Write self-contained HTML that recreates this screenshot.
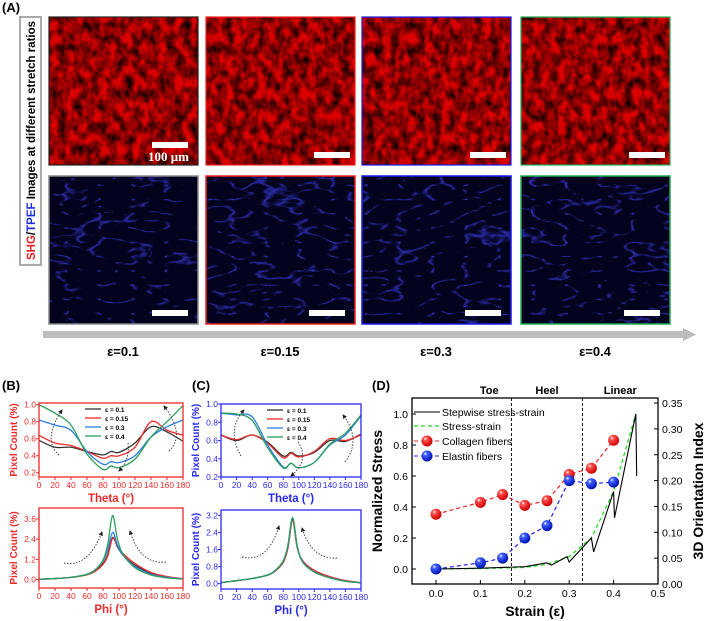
<!DOCTYPE html>
<html><head><meta charset="utf-8"><style>
html,body{margin:0;padding:0;background:#fff;width:706px;height:621px;overflow:hidden;font-family:"Liberation Sans",Arial,sans-serif}
svg{position:absolute;left:0;top:0}
</style></head><body>
<svg id="fig" width="706" height="621" viewBox="0 0 706 621" xmlns="http://www.w3.org/2000/svg">
<defs>
<filter id="redtex" x="0" y="0" width="100%" height="100%">
<feTurbulence type="fractalNoise" baseFrequency="0.12 0.09" numOctaves="3" seed="3"/>
<feColorMatrix type="matrix" values="0 0 0 0 0  0 0 0 0 0  0 0 0 0 0  -1.7 0 0 0 1.2"/>
</filter>
<filter id="bluetex" x="0" y="0" width="100%" height="100%">
<feTurbulence type="turbulence" baseFrequency="0.03 0.07" numOctaves="2" seed="7"/>
<feColorMatrix type="matrix" values="0 0 0 0 0.05  0 0 0 0 0.05  0 0 0 0 0.85  -6 0 0 0 0.7"/>
</filter>
<marker id="ah" viewBox="0 0 10 10" refX="8" refY="5" markerWidth="5" markerHeight="5" orient="auto"><path d="M0,0L10,5L0,10z" fill="#222"/></marker>
<radialGradient id="gr" cx="0.35" cy="0.3" r="0.7"><stop offset="0" stop-color="#fff"/><stop offset="0.25" stop-color="#ff5050"/><stop offset="1" stop-color="#c00"/></radialGradient>
<radialGradient id="gb" cx="0.35" cy="0.3" r="0.7"><stop offset="0" stop-color="#fff"/><stop offset="0.25" stop-color="#4060ff"/><stop offset="1" stop-color="#0010b0"/></radialGradient>
</defs>
<g id="panelA"></g>
<g id="panelB"></g>
<g id="panelC"></g>
<g id="panelD"></g>
</svg>
<script>
// ---------- data ----------
const stretchLabels = ["ε=0.1","ε=0.15","ε=0.3","ε=0.4"];
const seriesNames = ["ε = 0.1","ε = 0.15","ε = 0.3","ε = 0.4"];
const thetaX = [0,20,40,60,80,90,100,120,140,160,180];
const bTheta01 = [0.58,0.50,0.50,0.45,0.41,0.45,0.44,0.55,0.74,0.68,0.57];
const bTheta015 = [0.64,0.55,0.52,0.45,0.37,0.40,0.40,0.50,0.80,0.70,0.64];
const bTheta03 = [0.82,0.76,0.70,0.45,0.30,0.33,0.32,0.40,0.62,0.74,0.82];
const bTheta04 = [1.0,0.90,0.76,0.42,0.24,0.28,0.26,0.36,0.62,0.80,0.99];
const cTheta01 = [0.66,0.60,0.66,0.58,0.43,0.47,0.43,0.47,0.60,0.59,0.67];
const cTheta015 = [0.66,0.61,0.66,0.57,0.41,0.46,0.42,0.48,0.62,0.60,0.66];
const cTheta03 = [0.90,0.88,0.86,0.55,0.31,0.35,0.30,0.36,0.55,0.66,0.87];
const cTheta04 = [0.90,0.89,0.82,0.52,0.30,0.35,0.30,0.36,0.56,0.68,0.88];
const phiX = [0,20,40,60,70,80,86,92,98,105,120,140,160,180];
const bPhi01 = [0.02,0.06,0.13,0.30,0.52,0.95,1.5,2.5,1.95,1.45,0.85,0.38,0.16,0.05];
const bPhi015 = [0.02,0.06,0.13,0.28,0.48,0.90,1.4,2.45,2.0,1.55,0.95,0.42,0.18,0.05];
const bPhi03 = [0.02,0.06,0.14,0.32,0.58,1.10,1.8,2.8,2.05,1.45,0.78,0.32,0.13,0.04];
const bPhi04 = [0.02,0.06,0.13,0.30,0.56,1.15,2.1,3.8,2.4,1.5,0.70,0.27,0.10,0.03];
const cPhi01 = [0.05,0.14,0.24,0.40,0.60,1.0,1.7,3.0,1.7,1.05,0.58,0.30,0.13,0.04];
const cPhi015 = [0.05,0.14,0.24,0.40,0.60,1.0,1.65,2.95,1.7,1.08,0.62,0.33,0.15,0.05];
const cPhi03 = [0.05,0.14,0.24,0.40,0.62,1.05,1.75,3.05,1.75,1.02,0.55,0.28,0.12,0.04];
const cPhi04 = [0.05,0.14,0.24,0.41,0.63,1.07,1.8,3.1,1.78,1.0,0.54,0.27,0.11,0.04];
const strainX = [0,0.1,0.15,0.2,0.25,0.3,0.35,0.4];
const collagenIdx = [0.135,0.158,0.173,0.152,0.161,0.212,0.224,0.278];
const elastinIdx = [0.029,0.041,0.050,0.089,0.113,0.200,0.194,0.197];
const stepX = [0,0.1,0.2,0.25,0.26,0.295,0.3,0.35,0.355,0.4,0.402,0.45,0.452];
const stepY = [0,0.005,0.015,0.04,0.025,0.08,0.045,0.2,0.11,0.5,0.33,1.0,0.6];
const ssX = [0,0.1,0.2,0.25,0.3,0.35,0.4,0.45];
const ssY = [0,0.003,0.01,0.03,0.08,0.2,0.5,1.0];
const regionLabels = ["Toe","Heel","Linear"];
const regionBounds = [0.17,0.33];

const NS="http://www.w3.org/2000/svg";
function mk(parent,tag,attrs,text){const e=document.createElementNS(NS,tag);for(const k in attrs)e.setAttribute(k,attrs[k]);if(text!==undefined)e.textContent=text;parent.appendChild(e);return e;}
function smooth(pts){if(pts.length<2)return"";let d="M"+pts[0][0]+","+pts[0][1];for(let i=0;i<pts.length-1;i++){const p0=pts[i-1]||pts[i],p1=pts[i],p2=pts[i+1],p3=pts[i+2]||p2;const c1=[p1[0]+(p2[0]-p0[0])/6,p1[1]+(p2[1]-p0[1])/6],c2=[p2[0]-(p3[0]-p1[0])/6,p2[1]-(p3[1]-p1[1])/6];d+="C"+c1[0]+","+c1[1]+" "+c2[0]+","+c2[1]+" "+p2[0]+","+p2[1];}return d;}
const colors=["#333333","#ee2a2a","#2f7fe0","#2aa05a"];

// ---------- Panel A ----------
const A=document.getElementById("panelA");
let t=mk(A,"text",{x:2,y:12,"font-size":13,"font-weight":"bold"},"(A)");


let r=mk(A,"rect",{x:20,y:17,width:21,height:248,fill:"#fff",stroke:"#aaa","stroke-width":2});


let vt=mk(A,"text",{transform:"translate(35,260) rotate(-90)","font-size":11.5,"font-weight":"bold"});


mk(vt,"tspan",{fill:"#e02020"},"SHG");mk(vt,"tspan",{fill:"#000"},"/");mk(vt,"tspan",{fill:"#2030e0"},"TPEF");mk(vt,"tspan",{fill:"#000"}," Images at different stretch ratios");
const imgX=[49,206,362,521], borders=["#222","#ee2020","#1a1aee","#22aa55"];
for(let i=0;i<4;i++){
  const g=mk(A,"g",{});
  
  
  mk(g,"rect",{x:imgX[i],y:17,width:149,height:148,fill:"#dd0000"});
  mk(g,"rect",{x:imgX[i],y:17,width:149,height:148,filter:"url(#redtex)"});
  mk(g,"rect",{x:imgX[i],y:17,width:149,height:148,fill:"none",stroke:borders[i],"stroke-width":1.2});
  mk(g,"rect",{x:imgX[i]+(i==0?103:108),y:(i==0?142:152),width:36,height:6,fill:"#fff"});
  if(i==0)mk(g,"text",{x:imgX[i]+99,y:161,"font-size":13,"font-weight":"bold",fill:"#fff","font-family":"Liberation Serif,serif"},"100 μm");
  const h=mk(A,"g",{});
  
  
  mk(h,"rect",{x:imgX[i],y:176,width:149,height:148,fill:"#03031e"});
  mk(h,"rect",{x:imgX[i],y:176,width:149,height:148,filter:"url(#bluetex)"});
  mk(h,"rect",{x:imgX[i],y:176,width:149,height:148,fill:"none",stroke:i==0?"#888":borders[i],"stroke-width":1.5});
  mk(h,"rect",{x:imgX[i]+103,y:310,width:36,height:6,fill:"#fff"});
  let l=mk(A,"text",{x:imgX[i]+74,y:356,"font-size":13,"font-weight":"bold","text-anchor":"middle"},stretchLabels[i]);
  
  
}
let ar=mk(A,"path",{d:"M43,331H683V328L696,334.5L683,341V338H43Z",fill:"#bdbdbd"});



// ---------- small plot helper ----------
function smallPlot(P,box,xd,yd,yticks,ytickFmt,axisColor,xs,ys,title,ylabel,arrows,legend){
  const sx=v=>box.x+(v-xd[0])/(xd[1]-xd[0])*box.w, sy=v=>box.y+box.h-(v-yd[0])/(yd[1]-yd[0])*box.h;
  const g=mk(P,"g",{});
  
  
  for(let k=0;k<ys.length;k++){
    const pts=xs.map((x,j)=>[sx(x),sy(ys[k][j])]);
    const p=mk(g,"path",{d:smooth(pts),fill:"none",stroke:colors[k],"stroke-width":1.3});
    
    
  }
  mk(g,"rect",{x:box.x,y:box.y,width:box.w,height:box.h,fill:"none",stroke:axisColor,"stroke-width":1.3});
  for(let v=0;v<=180;v+=20){mk(g,"line",{x1:sx(v),x2:sx(v),y1:box.y+box.h,y2:box.y+box.h+3,stroke:axisColor});
    mk(g,"text",{x:sx(v),y:box.y+box.h+11,"font-size":8.5,fill:axisColor,"text-anchor":"middle"},v);}
  yticks.forEach(v=>{mk(g,"line",{x1:box.x-3,x2:box.x,y1:sy(v),y2:sy(v),stroke:axisColor});
    mk(g,"text",{x:box.x-3,y:sy(v)+3,"font-size":8.5,fill:axisColor,"text-anchor":"end"},ytickFmt(v));});
  let xt=mk(g,"text",{x:box.x+box.w/2,y:box.y+box.h+25,"font-size":11.5,"font-weight":"bold",fill:axisColor,"text-anchor":"middle"},title+" (°)");
  
  
  let yt=mk(g,"text",{transform:"translate("+(box.x-22)+","+(box.y+box.h/2)+") rotate(-90)","font-size":10,"font-weight":"bold",fill:axisColor,"text-anchor":"middle"},ylabel);
  
  
  arrows.forEach(a=>mk(g,"path",{d:a,fill:"none",stroke:"#333","stroke-width":0.9,"stroke-dasharray":"1.5,1.5","marker-end":"url(#ah)"}));
  if(legend){const lg=mk(g,"g",{});
    
    
    seriesNames.forEach((n,k)=>{const y=box.y+6+k*9;mk(lg,"line",{x1:box.x+46,x2:box.x+62,y1:y,y2:y,stroke:colors[k],"stroke-width":1.3});
      mk(lg,"text",{x:box.x+66,y:y+3,"font-size":6.5,"font-weight":"bold"},n);});}
}
const B=document.getElementById("panelB");
let bl=mk(B,"text",{x:2,y:390,"font-size":13,"font-weight":"bold"},"(B)");

smallPlot(B,{x:39,y:403,w:144,h:74},[0,180],[0.15,1.02],[0.2,0.4,0.6,0.8,1.0],v=>v.toFixed(1),"#ee2a2a",thetaX,[bTheta01,bTheta015,bTheta03,bTheta04],"Theta","Pixel Count (%)",
 ["M59,455Q42,440 62,410","M169,451Q186,435 164,406","M128,443Q130,460 119,471"],true);
smallPlot(B,{x:39,y:508,w:144,h:80},[0,180],[-0.5,4.25],[0,1.2,2.4,3.6],v=>v.toFixed(1),"#ee2a2a",phiX,[bPhi01,bPhi015,bPhi03,bPhi04],"Phi","Pixel Count (%)",
 ["M64,563Q88,568 102,532","M166,562Q140,565 130,531"],false);
const C=document.getElementById("panelC");
let cl=mk(C,"text",{x:192,y:390,"font-size":13,"font-weight":"bold"},"(C)");

smallPlot(C,{x:221,y:404,w:140,h:73},[0,180],[0.2,1.0],[0.2,0.4,0.6,0.8,1.0],v=>v.toFixed(1),"#2a2aee",thetaX,[cTheta01,cTheta015,cTheta03,cTheta04],"Theta","Pixel Count (%)",
 ["M241,456Q226,430 244,410","M345,462Q362,440 343,415","M298,442Q310,460 291,476"],true);
smallPlot(C,{x:221,y:510,w:140,h:79},[0,180],[-0.25,3.45],[0,0.8,1.6,2.4,3.2],v=>v.toFixed(1),"#2a2aee",phiX,[cPhi01,cPhi015,cPhi03,cPhi04],"Phi","Pixel Count (%)",
 ["M242,557Q268,563 279,526","M337,558Q312,560 302,528"],false);

// ---------- Panel D ----------
const D=document.getElementById("panelD");
let dl=mk(D,"text",{x:372,y:390,"font-size":13,"font-weight":"bold"},"(D)");

const dbox={x:412,y:398,w:246,h:186};
const dx=v=>436+v*444, dyL=v=>569-v*155, dyR=v=>584-v*517;
mk(D,"rect",{x:dbox.x,y:dbox.y,width:dbox.w,height:dbox.h,fill:"none",stroke:"#000","stroke-width":1.3});
regionBounds.forEach(b=>{let l=mk(D,"line",{x1:dx(b),x2:dx(b),y1:dbox.y,y2:dbox.y+dbox.h,stroke:"#000","stroke-dasharray":"3,2","stroke-width":0.9});
 });
const rc=[0.12,(0.17+0.33)/2,(0.33+0.5)/2];
regionLabels.forEach((n,i)=>{let tt=mk(D,"text",{x:dx(rc[i]),y:394,"font-size":11,"font-weight":"bold","text-anchor":"middle"},n);
 });
[0,0.1,0.2,0.3,0.4,0.5].forEach(v=>{mk(D,"line",{x1:dx(v),x2:dx(v),y1:584,y2:580,stroke:"#000"});mk(D,"text",{x:dx(v),y:597,"font-size":10.5,"text-anchor":"middle"},v.toFixed(1));});
[0,0.2,0.4,0.6,0.8,1.0].forEach(v=>{mk(D,"line",{x1:dbox.x,x2:dbox.x+4,y1:dyL(v),y2:dyL(v),stroke:"#000"});mk(D,"text",{x:dbox.x-4,y:dyL(v)+4,"font-size":10.5,"text-anchor":"end"},v.toFixed(1));});
[0,0.05,0.1,0.15,0.2,0.25,0.3,0.35].forEach(v=>{mk(D,"line",{x1:658,x2:654,y1:dyR(v),y2:dyR(v),stroke:"#000"});mk(D,"text",{x:662,y:dyR(v)+4,"font-size":10.5},v.toFixed(2));});
let dxt=mk(D,"text",{x:535,y:616,"font-size":14,"font-weight":"bold","text-anchor":"middle"},"Strain (ε)");

let dyt=mk(D,"text",{transform:"translate(382,491) rotate(-90)","font-size":14,"font-weight":"bold","text-anchor":"middle"},"Normalized Stress");

let dyr=mk(D,"text",{transform:"translate(703,491) rotate(-90)","font-size":14,"font-weight":"bold","text-anchor":"middle"},"3D Orientation Index");

let ss=mk(D,"polyline",{points:ssX.map((x,i)=>dx(x)+","+dyL(ssY[i])).join(" "),fill:"none",stroke:"#22dd22","stroke-width":1.3,"stroke-dasharray":"4,3"});

let sw=mk(D,"polyline",{points:stepX.map((x,i)=>dx(x)+","+dyL(stepY[i])).join(" "),fill:"none",stroke:"#000","stroke-width":1.1});

function dots(vals,col,grad,name){
  let pl=mk(D,"polyline",{points:strainX.map((x,i)=>dx(x)+","+dyR(vals[i])).join(" "),fill:"none",stroke:col,"stroke-width":1.2,"stroke-dasharray":"4,3"});
  
  strainX.forEach((x,i)=>{let c=mk(D,"circle",{cx:dx(x),cy:dyR(vals[i]),r:5.5,fill:"url(#"+grad+")"});
    });
}
dots(collagenIdx,"#ee2222","gr","collagen");
dots(elastinIdx,"#2222ee","gb","elastin");
const lg=mk(D,"g",{});

mk(lg,"line",{x1:414,x2:440,y1:412,y2:412,stroke:"#000","stroke-width":1.1});mk(lg,"text",{x:442,y:416,"font-size":10.5},"Stepwise stress-strain");
mk(lg,"line",{x1:414,x2:440,y1:426,y2:426,stroke:"#22dd22","stroke-width":1.3,"stroke-dasharray":"4,3"});mk(lg,"text",{x:442,y:430,"font-size":10.5},"Stress-strain");
mk(lg,"line",{x1:414,x2:440,y1:441,y2:441,stroke:"#ee2222","stroke-dasharray":"4,3"});mk(lg,"circle",{cx:427,cy:441,r:5.5,fill:"url(#gr)"});mk(lg,"text",{x:442,y:445,"font-size":10.5},"Collagen fibers");
mk(lg,"line",{x1:414,x2:440,y1:456,y2:456,stroke:"#2222ee","stroke-dasharray":"4,3"});mk(lg,"circle",{cx:427,cy:456,r:5.5,fill:"url(#gb)"});mk(lg,"text",{x:442,y:460,"font-size":10.5},"Elastin fibers");
</script>
</body></html>
